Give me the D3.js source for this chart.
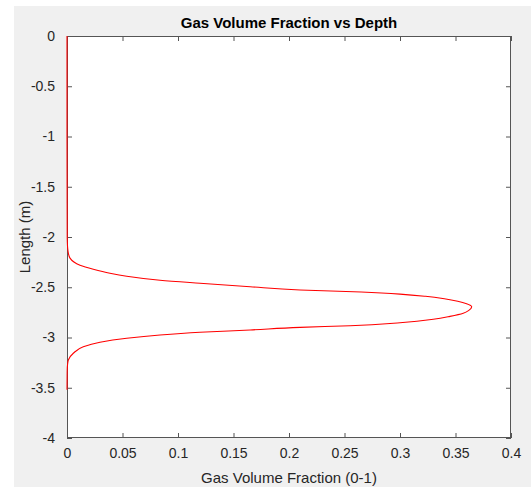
<!DOCTYPE html>
<html>
<head>
<meta charset="utf-8">
<script src="https://cdn.jsdelivr.net/npm/d3@7"></script>
<style>
  body { margin: 0; background: #fff; }
  svg { display: block; font-family: "Liberation Sans", Arial, sans-serif; }
</style>
</head>
<body>
<svg width="531" height="487"></svg>
<script>
// depth along the pipe (m) and gas volume fraction
var depth = [0, -0.5, -1, -1.5, -2, -2.05, -2.11, -2.16, -2.21, -2.28, -2.32, -2.36, -2.39, -2.43,
  -2.46, -2.495, -2.527, -2.548, -2.568, -2.59, -2.615, -2.64, -2.665, -2.694, -2.73, -2.759, -2.79, -2.819,
  -2.853, -2.883, -2.899, -2.925, -2.948, -2.975, -3.008, -3.048, -3.092, -3.157, -3.224,
  -3.27, -3.323, -3.4, -3.52];
var gvf = [0, 0, 0, 0.0001, 0.0002, 0.0003, 0.0006, 0.0012, 0.0027, 0.0117, 0.0237, 0.0387, 0.0538, 0.0838,
  0.1198, 0.165, 0.21, 0.265, 0.3, 0.323, 0.34, 0.352, 0.36, 0.3646, 0.362, 0.357, 0.345, 0.33,
  0.3, 0.255, 0.21, 0.165, 0.1198, 0.0838, 0.0538, 0.0297, 0.0147, 0.0057, 0.0012,
  0.0005, 0.0002, 0.0001, 0];

var xTicks = [0, 0.05, 0.1, 0.15, 0.2, 0.25, 0.3, 0.35, 0.4];
var yTicks = [0, -0.5, -1, -1.5, -2, -2.5, -3, -3.5, -4];

var svg = d3.select("svg");

// figure background
svg.append("rect")
    .attr("x", 14).attr("y", 6)
    .attr("width", 531 - 14).attr("height", 487 - 6)
    .attr("fill", "#f0f0f0");

var margin = { top: 36, right: 20, bottom: 49, left: 67 };
var width = 531 - margin.left - margin.right,
    height = 487 - margin.top - margin.bottom;

var x = d3.scaleLinear().domain([0, 0.4]).range([0, width]),
    y = d3.scaleLinear().domain([-4, 0]).range([height, 0]);

var g = svg.append("g")
    .attr("transform", "translate(" + margin.left + "," + margin.top + ")");

g.append("rect")
    .attr("width", width).attr("height", height)
    .attr("fill", "#fff");

var axisColor = "#555",
    textColor = "#262626";

function styleAxis(sel, labels) {
    sel.select(".domain").remove();
    sel.selectAll(".tick line").attr("stroke", axisColor);
    sel.selectAll(".tick text")
        .attr("fill", textColor)
        .style("font-size", "14px")
        .style("display", labels ? null : "none");
}

g.append("g")
    .attr("transform", "translate(0," + height + ")")
    .call(d3.axisBottom(x).tickValues(xTicks).tickSizeInner(-5).tickSizeOuter(0).tickPadding(10)
        .tickFormat(d => String(d)))
    .call(s => styleAxis(s, true));

g.append("g")
    .call(d3.axisTop(x).tickValues(xTicks).tickSizeInner(-5).tickSizeOuter(0))
    .call(s => styleAxis(s, false));

g.append("g")
    .call(d3.axisLeft(y).tickValues(yTicks).tickSizeInner(-5).tickSizeOuter(0).tickPadding(12)
        .tickFormat(d => String(d)))
    .call(s => styleAxis(s, true));

g.append("g")
    .attr("transform", "translate(" + width + ",0)")
    .call(d3.axisRight(y).tickValues(yTicks).tickSizeInner(-5).tickSizeOuter(0))
    .call(s => styleAxis(s, false));

// box
g.append("rect")
    .attr("x", 0.5).attr("y", 0.5)
    .attr("width", width - 1).attr("height", height - 1)
    .attr("fill", "none")
    .attr("stroke", axisColor);

var line = d3.line()
    .x((d, i) => x(gvf[i]))
    .y(d => y(d))
    .curve(d3.curveMonotoneY);

g.append("path")
    .datum(depth)
    .attr("d", line)
    .attr("fill", "none")
    .attr("stroke", "#ff0000")
    .attr("stroke-width", 1.1);

// title and labels
svg.append("text")
    .attr("x", margin.left + width / 2).attr("y", 28)
    .attr("text-anchor", "middle")
    .attr("fill", "#000")
    .style("font-size", "15px")
    .style("font-weight", "bold")
    .text("Gas Volume Fraction vs Depth");

svg.append("text")
    .attr("x", margin.left + width / 2).attr("y", 483)
    .attr("text-anchor", "middle")
    .attr("fill", textColor)
    .style("font-size", "15px")
    .text("Gas Volume Fraction (0-1)");

svg.append("text")
    .attr("transform", "translate(30," + (margin.top + height / 2) + ") rotate(-90)")
    .attr("text-anchor", "middle")
    .attr("fill", textColor)
    .style("font-size", "15px")
    .text("Length (m)");
</script>
</body>
</html>
